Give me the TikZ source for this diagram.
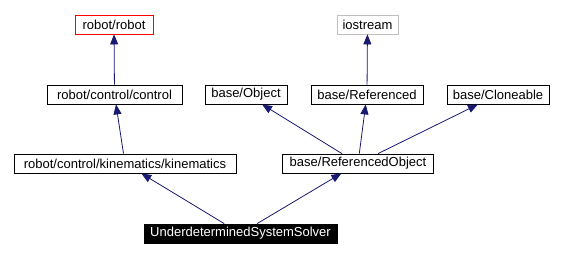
\documentclass[tikz,border=0pt]{standalone}
\usepackage{fontspec}
\setmainfont{Liberation Sans}
\usetikzlibrary{arrows.meta}
\definecolor{edgeblue}{HTML}{191970}
\definecolor{extgray}{HTML}{BFBFBF}
\tikzset{
  cls/.style={draw=black, line width=0.8pt, inner sep=0pt, minimum height=19pt,
    font=\fontsize{13}{15}\selectfont, text=black, fill=white},
  inherit/.style={draw=edgeblue, line width=0.8pt,
    -{Triangle[length=10pt,width=8pt]}},
}
\begin{document}
\begin{tikzpicture}[x=1pt,y=-1pt]
  \useasboundingbox[fill=white] (0,0) rectangle (562,257);
  % top row
  \node[cls, draw=red, minimum width=78pt] (robot) at (114,24.5) {robot/robot};
  \node[cls, draw=extgray, minimum width=61pt] (iostream) at (367.5,24.5) {iostream};
  % middle row
  \node[cls, minimum width=135pt] (control) at (114.5,94.5) {robot/control/control};
  \node[cls, minimum width=82pt] (object) at (246,94.5) {base/Object};
  \node[cls, minimum width=112pt] (referenced) at (367,94.5) {base/Referenced};
  \node[cls, minimum width=102pt] (cloneable) at (498,94.5) {base/Cloneable};
  % lower row
  \node[cls, minimum width=222pt] (kin) at (125,163.5) {robot/control/kinematics/kinematics};
  \node[cls, minimum width=151pt] (refobj) at (358,163.5) {base/ReferencedObject};
  % bottom
  \node[cls, fill=black, text=white, minimum width=193pt] (solver) at (240.5,233.5) {UnderdeterminedSystemSolver};
  % inheritance edges
  \draw[inherit] (control) -- (robot);
  \draw[inherit] (referenced) -- (iostream);
  \draw[inherit] (kin) -- (control);
  \draw[inherit] (refobj) -- (object);
  \draw[inherit] (refobj) -- (referenced);
  \draw[inherit] (refobj) -- (cloneable);
  \draw[inherit] (solver) -- (kin);
  \draw[inherit] (solver) -- (refobj);
\end{tikzpicture}
\end{document}
